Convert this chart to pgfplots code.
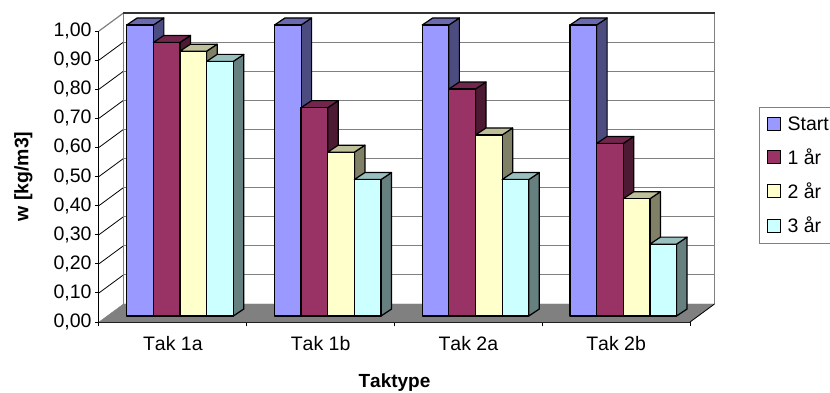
\documentclass[border=0pt]{standalone}
\usepackage{fontspec}
\setmainfont[Kerning=Off]{Liberation Sans}
\usepackage{pgfplots}
\usepackage{pgfplotstable}
\pgfplotsset{compat=1.18}

% moisture content per roof type and year
\pgfplotstableread{
cat  Start  one    two    three
0    1.00   0.94   0.91   0.875
1    1.00   0.716  0.563  0.469
2    1.00   0.78   0.622  0.469
3    1.00   0.593  0.403  0.247
}\taktable

\definecolor{cA}{HTML}{9999FF}\definecolor{cAs}{HTML}{4C4C80}\definecolor{cAt}{HTML}{6A6AB0}
\definecolor{cB}{HTML}{993366}\definecolor{cBs}{HTML}{4D1A33}\definecolor{cBt}{HTML}{73264D}
\definecolor{cC}{HTML}{FFFFCC}\definecolor{cCs}{HTML}{808066}\definecolor{cCt}{HTML}{BFBF99}
\definecolor{cD}{HTML}{CCFFFF}\definecolor{cDs}{HTML}{668080}\definecolor{cDt}{HTML}{99BFBF}
\definecolor{wallgray}{HTML}{808080}

\begin{document}
\begin{tikzpicture}[x=1pt,y=1pt]
\useasboundingbox (0,0) rectangle (830,392);
\begin{axis}[
  at={(99pt,70pt)}, anchor=south west,
  scale only axis, width=591pt, height=291pt,
  xmin=-0.5, xmax=3.5, ymin=0, ymax=1,
  clip=false,
  axis x line=bottom, axis y line=left,
  axis line style={-, black, line width=1pt},
  tick align=outside, major tick length=4pt,
  tick style={black, line width=1pt},
  xtick={-0.5,0.5,1.5,2.5,3.5},
  x tick label as interval=true,
  xticklabels={Tak 1a,Tak 1b,Tak 2a,Tak 2b},
  ytick={0,0.1,...,1.01},
  minor tick num=0,
  tick label style={font=\fontsize{19.5}{22}\selectfont},
  yticklabel style={/pgf/number format/.cd, fixed, fixed zerofill, precision=2, use comma, 1000 sep={}, assume math mode=true},
  scaled y ticks=false,
  xticklabel style={yshift=-7pt},
  xlabel={\textbf{Taktype}}, ylabel={\textbf{w [kg/m3]}},
  xlabel style={font=\fontsize{19}{21}\selectfont, at={(axis cs:1.5,0)}, anchor=center, yshift=-61pt},
  ylabel style={font=\fontsize{19.5}{21}\selectfont, at={(axis cs:-0.5,0.5)}, anchor=center, yshift=75.5pt},
  legend style={at={(axis cs:3.967,0.739)}, anchor=north west, draw=wallgray, line width=1pt,
    inner xsep=7pt, inner ysep=9pt, row sep=17pt,
    font=\fontsize{19.5}{22}\selectfont,
    nodes={inner sep=0pt}},
  legend cell align=left,
  legend image code/.code={\draw[#1,line width=1.1pt] (0pt,-6.5pt) rectangle (13pt,6.5pt);},
]
% floor
\addplot[forget plot, fill=wallgray, draw=wallgray] coordinates {(-0.5,0)(-0.3342,0.0619)(3.6658,0.0619)(3.5,0)} --cycle;
% side and back walls with gridlines
\pgfplotsinvokeforeach{0.1,0.2,0.3,0.4,0.5,0.6,0.7,0.8,0.9}{
  \addplot[forget plot, black, line width=0.8pt] coordinates {(-0.5,#1)(-0.3342,#1+0.0619)};
  \addplot[forget plot, wallgray, line width=1pt] coordinates {(-0.3342,#1+0.0619)(3.6658,#1+0.0619)};
}
\addplot[forget plot, wallgray, line width=1.2pt] coordinates {(-0.5,1)(-0.3342,1.0619)};
\addplot[forget plot, wallgray, line width=1.2pt] coordinates {(-0.3342,0.0619)(-0.3342,1.0619)};
\addplot[forget plot, wallgray, line width=1.2pt] coordinates {(3.6658,0.0619)(3.6658,1.0619)};
\addplot[forget plot, black!80, line width=1.2pt] coordinates {(-0.3342,1.0619)(3.6658,1.0619)};
\addplot[forget plot, black, line width=0.8pt] coordinates {(3.5,0)(3.6658,0.0619)};
% bars, drawn left to right with side, top and front faces
\pgfplotsforeachungrouped \c in {0,1,2,3}{
  \pgfplotsforeachungrouped \s/\lett in {1/A,2/B,3/C,4/D}{
    \pgfplotstablegetelem{\c}{[index]\s}\of\taktable
    \pgfmathsetmacro\xl{\c-0.5+(27.7+(\s-1)*26.65)/147.75}
    \pgfmathsetmacro\xr{\xl+26.65/147.75}
    \pgfmathsetmacro\xlb{\xl+0.0711}
    \pgfmathsetmacro\xrb{\xr+0.0711}
    \pgfmathsetmacro\yb{0.0206}
    \pgfmathsetmacro\yt{\pgfplotsretval+0.0206}
    \pgfmathsetmacro\ybb{\yb+0.0241}
    \pgfmathsetmacro\ytb{\yt+0.0241}
    \edef\cmd{
      \noexpand\addplot[forget plot, fill=c\lett s, draw=black, line width=1.2pt, line join=round] coordinates {(\xr,\yb)(\xrb,\ybb)(\xrb,\ytb)(\xr,\yt)} --cycle;
      \noexpand\addplot[forget plot, fill=c\lett t, draw=black, line width=1.2pt, line join=round] coordinates {(\xl,\yt)(\xlb,\ytb)(\xrb,\ytb)(\xr,\yt)} --cycle;
      \noexpand\addplot[forget plot, fill=c\lett, draw=black, line width=1.2pt, line join=round] coordinates {(\xl,\yb)(\xl,\yt)(\xr,\yt)(\xr,\yb)} --cycle;
    }
    \cmd
  }
}
% legend entries
\addlegendimage{fill=cA, draw=black}\addlegendentry{\hspace{7pt}Start\hspace{30pt}}
\addlegendimage{fill=cB, draw=black}\addlegendentry{\hspace{7pt}1 år}
\addlegendimage{fill=cC, draw=black}\addlegendentry{\hspace{7pt}2 år}
\addlegendimage{fill=cD, draw=black}\addlegendentry{\hspace{7pt}3 år}
\end{axis}
\end{tikzpicture}
\end{document}
